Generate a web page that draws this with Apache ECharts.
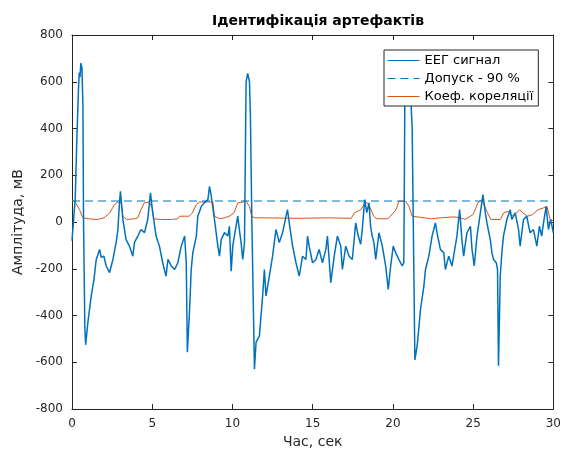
<!DOCTYPE html>
<html>
<head>
<meta charset="utf-8">
<script src="https://cdn.jsdelivr.net/npm/echarts@6/dist/echarts.min.js"></script>
<style>
html,body{margin:0;padding:0;background:#fff;}
#chart{width:564px;height:454px;}
</style>
</head>
<body>
<div id="chart"></div>
<script>
// ---- Data ----
const titleText = 'Ідентифікація артефактів';
const xAxisName = 'Час, сек';
const yAxisName = 'Амплітуда, мВ';
const seriesNames = ['ЕЕГ сигнал', 'Допуск - 90 %', 'Коеф. кореляції'];

const xTicks = [0, 5, 10, 15, 20, 25, 30];
const yTicks = [-800, -600, -400, -200, 0, 200, 400, 600, 800];

// EEG signal: time (s) and amplitude (mV)
const eegT = [0, 0.12, 0.2, 0.3, 0.4, 0.45, 0.5, 0.55, 0.62, 0.68, 0.72, 0.8, 0.85,
  0.99, 1.2, 1.37, 1.51, 1.72, 1.82, 1.99, 2.13, 2.34, 2.55, 2.75, 2.86, 2.96, 3.02, 3.17, 3.37,
  3.58, 3.79, 3.89, 4.10, 4.30, 4.52, 4.72, 4.89, 5.03, 5.24, 5.45, 5.65, 5.86, 5.98, 6.19,
  6.40, 6.60, 6.81, 7.02, 7.12, 7.19, 7.33, 7.43, 7.53, 7.75, 7.84, 8.06, 8.26, 8.47, 8.57,
  8.68, 8.88, 9.09, 9.19, 9.30, 9.50, 9.71, 9.81, 9.92, 10.02, 10.12, 10.33, 10.43, 10.54,
  10.64, 10.75, 10.85, 10.95, 11.06, 11.12, 11.21, 11.37, 11.47, 11.68, 11.88, 11.99, 12.09,
  12.30, 12.50, 12.71, 12.92, 13.12, 13.34, 13.43, 13.54, 13.75, 13.96, 14.16, 14.37, 14.58,
  14.68, 14.78, 14.99, 15.20, 15.40, 15.61, 15.82, 15.92, 16.13, 16.34, 16.54, 16.75, 16.85,
  17.06, 17.27, 17.47, 17.68, 17.84, 17.99, 18.09, 18.24, 18.37, 18.51, 18.61, 18.71, 18.82,
  18.93, 19.13, 19.34, 19.55, 19.71, 19.86, 20.02, 20.17, 20.37, 20.58, 20.68, 20.75, 20.84,
  21.06, 21.2, 21.37, 21.51, 21.61, 21.72, 21.93, 22.03, 22.24, 22.44, 22.65, 22.75, 22.96,
  23.17, 23.27, 23.48, 23.68, 23.79, 23.99, 24.16, 24.30, 24.41, 24.61, 24.83, 24.93, 25.07,
  25.24, 25.45, 25.61, 25.76, 25.86, 26.07, 26.17, 26.27, 26.44, 26.52, 26.58, 26.69, 26.79,
  26.89, 27.10, 27.31, 27.41, 27.62, 27.83, 27.93, 28.14, 28.34, 28.55, 28.76, 28.97, 29.13,
  29.27, 29.42, 29.55, 29.69, 29.83, 30.0];
const eegV = [-80, -75, 100, 350, 560, 640, 620, 680, 660, 500, 0, -450, -525,
  -429, -316, -245, -160, -117, -151, -146, -188, -216, -160, -88, -32, 83, 131, 11, -75,
  -103, -146, -88, -60, -32, -45, 11, 125, 40, -60, -103, -173, -231, -160, -188,
  -203, -173, -103, -60, -173, -557, -373, -203, -131, -60, 25, 67, 83, 96, 153,
  110, 11, -103, -146, -75, -45, -60, -18, -210, -103, -60, 25, -32, -89,
  -160, -89, 600, 636, 600, 450, 0, -629, -515, -487, -316, -203, -316,
  -231, -146, -32, -88, -46, 25, 53, -4, -103, -174, -231, -146, -160,
  -60, -103, -174, -160, -117, -174, -117, -60, -259, -146, -60, -103, -203,
  -103, -146, -160, -4, -60, -95, -32, 96, 40, 82, -18, -60, -89,
  -160, -46, -103, -188, -288, -188, -103, -131, -160, -188, -174, 600, 640,
  620, 400, -590, -530, -458, -373, -274, -203, -146, -60, -4, -46, -117,
  -131, -203, -146, -188, -188, -60, 53, -75, -146, -46, -18, -117, -188,
  -60, 39, 117, 39, -4, -75, -131, -160, -174, -203, -615, -231, -131,
  -60, 11, 53, 11, 39, -32, -103, 11, 25, -46, -32, -103, -18,
  -60, 11, 67, -32, 11, -46];

// Tolerance level (dashed line)
const toleranceT = [0, 30];
const toleranceV = [90, 90];

// Correlation coefficient curve
const corrT = [0, 0.17, 0.47, 0.68, 1.0, 1.6, 2.0, 2.35, 2.65, 2.86, 3.07, 3.17, 3.4, 3.9,
  4.1, 4.3, 4.5, 4.8, 5.0, 5.1, 5.5, 6.2, 6.6, 6.7, 7.0, 7.3, 7.5, 7.75, 7.95, 8.78,
  8.88, 9.2, 9.5, 9.8, 10.1, 10.33, 10.43, 10.85, 11.06, 11.2, 11.37, 12.0, 14.0, 16.0,
  17.4, 17.6, 18.0, 18.3, 18.5, 18.8, 19.0, 19.65, 19.85, 20.2, 20.37, 20.8, 21.0, 21.2,
  21.3, 22.4, 22.96, 23.8, 24.2, 24.5, 25.0, 25.3, 25.55, 25.9, 26.1, 26.7, 26.9, 27.2,
  27.4, 27.6, 27.9, 28.1, 28.4, 28.7, 29.05, 29.4, 29.6, 29.8, 30.0];
const corrV = [92, 89, 53, 18, 14, 11, 18, 39, 75, 86, 82, 25, 11, 14,
  18, 53, 82, 86, 61, 14, 11, 11, 14, 25, 25, 25, 39, 75, 86, 86,
  25, 14, 18, 25, 39, 82, 89, 89, 67, 25, 18, 18, 16, 18,
  16, 39, 53, 86, 75, 25, 14, 14, 25, 53, 89, 89, 67, 25,
  18, 14, 18, 22, 18, 11, 32, 82, 95, 39, 11, 11, 39, 46,
  25, 32, 53, 39, 25, 32, 53, 61, 67, 11, 4];

// ---- Build chart ----
const pairs = (t, v) => t.map((x, i) => [x, v[i]]);
const FONT = 'DejaVu Sans';
const INK = '#262626';

const chart = echarts.init(document.getElementById('chart'), null, {renderer: 'canvas'});
const axisCommon = {
  axisLine: {show: true, onZero: false, lineStyle: {color: INK, width: 1}},
  axisTick: {show: true, inside: true, length: 5, lineStyle: {color: INK}},
  splitLine: {show: false}
};
chart.setOption({
  animation: false,
  backgroundColor: '#ffffff',
  title: {
    text: titleText, left: 313, top: 9, textAlign: 'center',
    textStyle: {fontFamily: FONT, fontSize: 14, fontWeight: 'bold', color: '#000'}
  },
  grid: {left: 72, right: 9, top: 35, bottom: 44},
  legend: {
    orient: 'vertical', left: 384, top: 50,
    data: seriesNames,
    backgroundColor: '#ffffff', borderColor: INK, borderWidth: 1, borderRadius: 0,
    padding: [4, 5, 3, 3], itemWidth: 32, itemHeight: 12, itemGap: 5,
    itemStyle: {opacity: 0},
    lineStyle: {width: 1},
    textStyle: {fontFamily: FONT, fontSize: 13, color: '#000'}
  },
  xAxis: [
    Object.assign({
      type: 'value', min: 0, max: 30, interval: 5, position: 'bottom',
      name: xAxisName, nameLocation: 'middle', nameGap: 23,
      nameTextStyle: {fontFamily: FONT, fontSize: 14, color: INK},
      axisLabel: {fontFamily: FONT, fontSize: 12, color: INK, margin: 9,
        formatter: v => xTicks.includes(v) ? String(v) : ''}
    }, axisCommon),
    Object.assign({
      type: 'value', min: 0, max: 30, interval: 5, position: 'top',
      axisLabel: {show: false}
    }, axisCommon)
  ],
  yAxis: [
    Object.assign({
      type: 'value', min: -800, max: 800, interval: 200, position: 'left',
      name: yAxisName, nameLocation: 'middle', nameGap: 44,
      nameTextStyle: {fontFamily: FONT, fontSize: 14, color: INK},
      axisLabel: {fontFamily: FONT, fontSize: 12, color: INK, margin: 9,
        formatter: v => yTicks.includes(v) ? String(v) : ''}
    }, axisCommon),
    Object.assign({
      type: 'value', min: -800, max: 800, interval: 200, position: 'right',
      axisLabel: {show: false}
    }, axisCommon)
  ],
  series: [
    {
      name: seriesNames[0], type: 'line', data: pairs(eegT, eegV),
      showSymbol: false, symbol: 'none', clip: true,
      lineStyle: {color: '#0072BD', width: 1.5}, itemStyle: {color: '#0072BD'}, z: 2
    },
    {
      name: seriesNames[1], type: 'line', data: pairs(toleranceT, toleranceV),
      showSymbol: false, symbol: 'none',
      lineStyle: {color: '#0072BD', width: 1, type: [8, 5]}, itemStyle: {color: '#0072BD'}, z: 3
    },
    {
      name: seriesNames[2], type: 'line', data: pairs(corrT, corrV),
      showSymbol: false, symbol: 'none',
      lineStyle: {color: '#D95319', width: 1}, itemStyle: {color: '#D95319'}, z: 1
    }
  ]
});
</script>
</body>
</html>
